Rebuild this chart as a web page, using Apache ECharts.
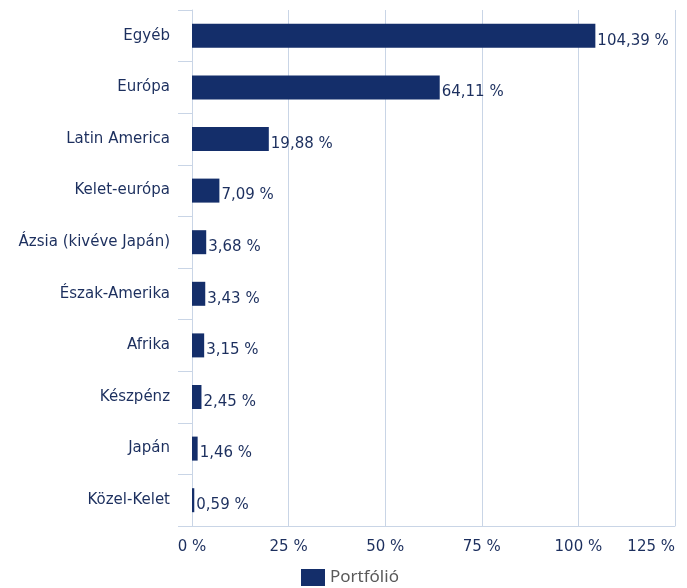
<!DOCTYPE html>
<html>
<head>
    <meta charset="utf-8" />
    <title>Portfólió</title>
    <style type="text/css">
        html, body {
            margin: 0;
            padding: 0;
            background: #fff;
        }

        #chart {
            width: 687px;
            height: 588px;
        }
    </style>
    <script src="https://cdn.jsdelivr.net/npm/echarts@6.0.0/dist/echarts.min.js"></script>
</head>
<body>
    <div id="chart"></div>
    <script type="text/javascript">
        // régiók, felülről lefelé
        var categories = ['Egyéb', 'Európa', 'Latin America', 'Kelet-európa', 'Ázsia (kivéve Japán)',
            'Észak-Amerika', 'Afrika', 'Készpénz', 'Japán', 'Közel-Kelet'];
        var portfolio = [104.39, 64.11, 19.88, 7.09, 3.68, 3.43, 3.15, 2.45, 1.46, 0.59];
        var xTicks = [0, 25, 50, 75, 100, 125];

        var lineColor = '#c9d5e6';
        var textColor = '#1c2f5e';

        var myChart = echarts.init(document.getElementById('chart'));
        var option = {
            animation: false,
            textStyle: {
                fontFamily: 'DejaVu Sans'
            },
            grid: {
                left: 192,
                right: 12,
                top: 10,
                bottom: 62,
                containLabel: false
            },
            legend: {
                left: 301,
                top: 569,
                padding: 0,
                icon: 'rect',
                itemWidth: 24,
                itemHeight: 17,
                itemGap: 10,
                textStyle: {
                    fontFamily: 'Noto Sans',
                    fontSize: 17,
                    color: '#595959'
                },
                data: ['Portfólió']
            },
            xAxis: {
                type: 'value',
                min: xTicks[0],
                max: xTicks[xTicks.length - 1],
                interval: 25,
                axisLine: {
                    show: true,
                    lineStyle: { color: lineColor }
                },
                axisTick: { show: false },
                splitLine: {
                    show: true,
                    lineStyle: { color: lineColor }
                },
                axisLabel: {
                    margin: 14,
                    fontSize: 15,
                    color: textColor,
                    alignMaxLabel: 'right',
                    formatter: '{value} %'
                }
            },
            yAxis: {
                type: 'category',
                inverse: true,
                data: categories,
                axisLine: {
                    show: true,
                    lineStyle: { color: lineColor }
                },
                axisTick: {
                    show: true,
                    length: 14,
                    lineStyle: { color: lineColor }
                },
                axisLabel: {
                    margin: 22,
                    fontSize: 15,
                    padding: [6, 0, 0, 0],
                    color: textColor
                }
            },
            series: [
                {
                    name: 'Portfólió',
                    type: 'bar',
                    data: portfolio,
                    barWidth: 24,
                    itemStyle: {
                        color: '#142e6a'
                    },
                    label: {
                        show: true,
                        position: 'right',
                        distance: 2,
                        offset: [0, 5],
                        fontSize: 15,
                        color: textColor,
                        formatter: function (p) {
                            return p.value.toFixed(2).replace('.', ',') + ' %';
                        }
                    }
                }
            ]
        };
        myChart.setOption(option);
    </script>
</body>
</html>
